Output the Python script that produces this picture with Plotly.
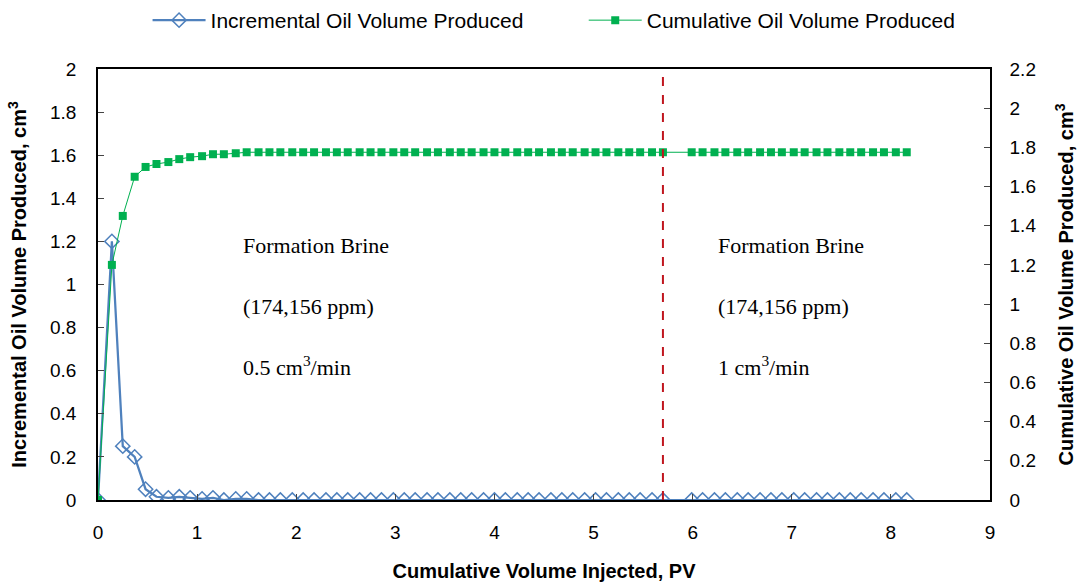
import plotly.graph_objects as go

# Cumulative volume injected (PV)
pv = [0.00, 0.14, 0.25, 0.37, 0.48, 0.59, 0.71, 0.82, 0.93, 1.05,
      1.16, 1.27, 1.39, 1.50, 1.62, 1.73, 1.84, 1.96, 2.07, 2.18,
      2.30, 2.41, 2.52, 2.64, 2.75, 2.86, 2.98, 3.09, 3.20, 3.32,
      3.43, 3.55, 3.66, 3.77, 3.89, 4.00, 4.11, 4.23, 4.34, 4.45,
      4.57, 4.68, 4.79, 4.91, 5.02, 5.13, 5.25, 5.36, 5.47, 5.59,
      5.70,
      5.99, 6.10, 6.22, 6.33, 6.45, 6.56, 6.68, 6.79, 6.90, 7.02,
      7.13, 7.25, 7.36, 7.48, 7.59, 7.70, 7.82, 7.93, 8.05, 8.16]

incremental = [0.00, 1.20, 0.25, 0.20, 0.05, 0.015, 0.01, 0.015, 0.01, 0.005,
               0.01, 0.00, 0.005, 0.005, 0.00, 0.00, 0.00, 0.00, 0.00, 0.00,
               0.00, 0.00, 0.00, 0.00, 0.00, 0.00, 0.00, 0.00, 0.00, 0.00,
               0.00, 0.00, 0.00, 0.00, 0.00, 0.00, 0.00, 0.00, 0.00, 0.00,
               0.00, 0.00, 0.00, 0.00, 0.00, 0.00, 0.00, 0.00, 0.00, 0.00,
               0.00,
               0.00, 0.00, 0.00, 0.00, 0.00, 0.00, 0.00, 0.00, 0.00, 0.00,
               0.00, 0.00, 0.00, 0.00, 0.00, 0.00, 0.00, 0.00, 0.00, 0.00]

cumulative = [0.00, 1.20, 1.45, 1.65, 1.70, 1.715, 1.725, 1.74, 1.75, 1.755,
              1.765, 1.765, 1.77, 1.775, 1.775, 1.775, 1.775, 1.775, 1.775, 1.775,
              1.775, 1.775, 1.775, 1.775, 1.775, 1.775, 1.775, 1.775, 1.775, 1.775,
              1.775, 1.775, 1.775, 1.775, 1.775, 1.775, 1.775, 1.775, 1.775, 1.775,
              1.775, 1.775, 1.775, 1.775, 1.775, 1.775, 1.775, 1.775, 1.775, 1.775,
              1.775,
              1.775, 1.775, 1.775, 1.775, 1.775, 1.775, 1.775, 1.775, 1.775, 1.775,
              1.775, 1.775, 1.775, 1.775, 1.775, 1.775, 1.775, 1.775, 1.775, 1.775]

switch_pv = 5.70

stage_x = [1.44, 6.24]
stage_lines = [
    ["Formation Brine", "(174,156 ppm)", "0.5 cm<sup>3</sup>/min"],
    ["Formation Brine", "(174,156 ppm)", "1 cm<sup>3</sup>/min"],
]
line_y = [1.18, 0.90, 0.62]

x_ticks = list(range(0, 10))
y1_ticks = [0, 0.2, 0.4, 0.6, 0.8, 1, 1.2, 1.4, 1.6, 1.8, 2]
y2_ticks = [0, 0.2, 0.4, 0.6, 0.8, 1, 1.2, 1.4, 1.6, 1.8, 2, 2.2]

fig = go.Figure()

fig.add_trace(go.Scatter(
    x=pv, y=incremental, name="Incremental Oil Volume Produced",
    mode="lines+markers",
    line=dict(color="#4F81BD", width=2.25),
    marker=dict(symbol="diamond-open", size=11, color="#4F81BD",
                line=dict(width=1.5, color="#4F81BD")),
    yaxis="y", legend="legend"))

fig.add_trace(go.Scatter(
    x=pv, y=cumulative, name="Cumulative Oil Volume Produced",
    mode="lines+markers",
    line=dict(color="#00B050", width=1),
    marker=dict(symbol="square", size=8, color="#00B050"),
    yaxis="y2", legend="legend2"))

fig.add_shape(type="line", xref="x", yref="paper",
              x0=switch_pv, x1=switch_pv, y0=0, y1=1,
              line=dict(color="#C0161E", width=2, dash="dash"))

for sx, lines in zip(stage_x, stage_lines):
    for txt, ty in zip(lines, line_y):
        fig.add_annotation(x=sx, y=ty, xref="x", yref="y", text=txt,
                           showarrow=False, xanchor="left", yanchor="middle",
                           font=dict(family="Liberation Serif", size=22, color="black"))

tickfont = dict(family="Liberation Sans", size=19, color="black")
titlefont = dict(family="Liberation Sans", size=20, color="black", weight="bold")
legfont = dict(family="Liberation Sans", size=21, color="black")

fig.update_layout(
    width=1085, height=585,
    margin=dict(l=98, r=95, t=69, b=85, autoexpand=False),
    paper_bgcolor="white", plot_bgcolor="white",
    showlegend=True,
    legend=dict(orientation="h", x=0.136, xref="container", xanchor="left",
                y=1.0, yref="container", yanchor="top", font=legfont, itemwidth=53),
    legend2=dict(orientation="h", x=0.538, xref="container", xanchor="left",
                 y=1.0, yref="container", yanchor="top", font=legfont, itemwidth=53),
    xaxis=dict(range=[0, 9], tickvals=x_ticks, ticks="inside", ticklen=6,
               showline=True, linecolor="black", linewidth=1.5, mirror=True,
               showgrid=False, zeroline=False, tickfont=tickfont, ticklabelstandoff=14,
               title=dict(text="Cumulative Volume Injected, PV", font=titlefont, standoff=22)),
    yaxis=dict(range=[0, 2], tickvals=y1_ticks, ticks="inside", ticklen=6,
               showline=True, linecolor="black", linewidth=1.5,
               showgrid=False, zeroline=False, tickfont=tickfont, ticklabelstandoff=16,
               title=dict(text="Incremental Oil Volume Produced, cm<sup>3</sup>", font=titlefont, standoff=18)),
    yaxis2=dict(range=[0, 2.2], tickvals=y2_ticks, ticks="inside", ticklen=6,
                overlaying="y", side="right",
                showline=True, linecolor="black", linewidth=1.5,
                showgrid=False, zeroline=False, tickfont=tickfont, ticklabelstandoff=14,
                title=dict(text="Cumulative Oil Volume Produced, cm<sup>3</sup>", font=titlefont, standoff=24)),
)

fig.write_html("out.html")
